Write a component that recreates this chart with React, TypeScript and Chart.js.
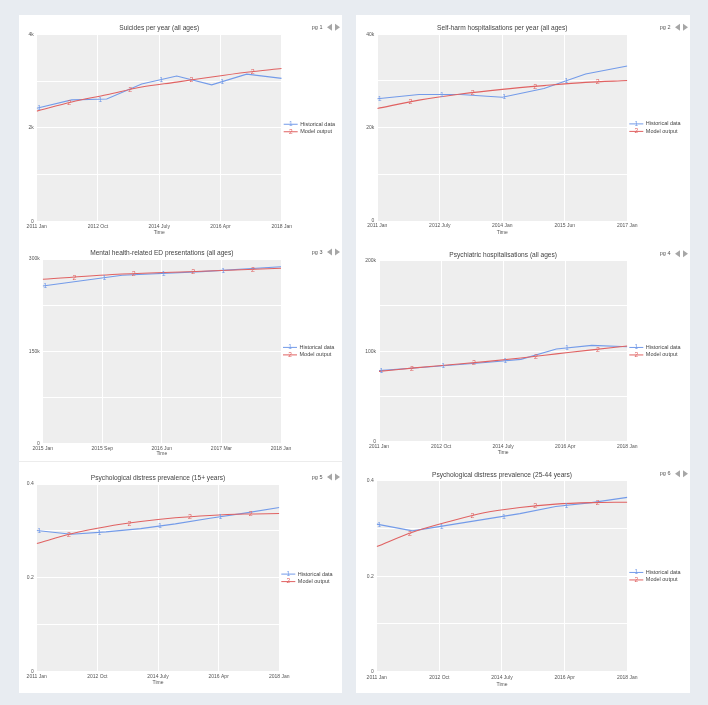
import React, { useEffect, useRef } from 'react';
import { Chart, registerables } from 'chart.js';

Chart.register(...registerables);

const FONT = '"Liberation Sans", Arial, Helvetica, sans-serif';

// ---------- data ----------
const years2011to2018 = [2011, 2012, 2013, 2014, 2015, 2016, 2017, 2018];
const years2011to2017 = [2011, 2012, 2013, 2014, 2015, 2016, 2017];
const years2015to2018 = [2015, 2016, 2017, 2018];

const suicidesHistorical = [2420, 2600, 2620, 2940, 3110, 2920, 3150, 3060];
const suicidesModel = [2360, 2555, 2710, 2875, 2980, 3090, 3190, 3270];

const selfHarmHistorical = [26200, 27100, 27100, 26500, 28400, 31500, 33200];
const selfHarmModel = [24100, 25900, 27200, 28200, 29000, 29700, 30100];

const edHistorical = [256000, 273500, 279500, 287500];
const edModel = [267000, 275500, 280000, 285000];

const psychHospHistorical = [78500, 81500, 84500, 87500, 91000, 102500, 106400, 105000];
const psychHospModel = [77700, 81600, 85000, 88500, 92500, 97000, 101500, 105700];

const distress15Historical = [0.301, 0.293, 0.298, 0.305, 0.315, 0.327, 0.338, 0.35];
const distress15Model = [0.273, 0.294, 0.309, 0.32, 0.328, 0.333, 0.336, 0.337];

const distress25Historical = [0.309, 0.295, 0.307, 0.319, 0.331, 0.346, 0.354, 0.365];
const distress25Model = [0.262, 0.292, 0.314, 0.333, 0.344, 0.351, 0.354, 0.355];

const xTicks2011to2018 = ['2011 Jan', '2012 Oct', '2014 July', '2016 Apr', '2018 Jan'];
const xTicks2011to2017 = ['2011 Jan', '2012 July', '2014 Jan', '2015 Jun', '2017 Jan'];
const xTicks2015to2018 = ['2015 Jan', '2015 Sep', '2016 Jun', '2017 Mar', '2018 Jan'];

const yTicksSuicides = ['0', '', '2k', '', '4k'];
const yTicksSelfHarm = ['0', '', '20k', '', '40k'];
const yTicksED = ['0', '', '150k', '', '300k'];
const yTicksPsychHosp = ['0', '', '100k', '', '200k'];
const yTicksDistress = ['0', '', '0.2', '', '0.4'];

const seriesLabels = ['Historical data', 'Model output'];
const seriesMarks = ['1', '2'];

// ---------- style ----------
const BLUE = '#739be9';
const RED = '#e06262';
const SERIES_COLORS = [BLUE, RED];
const PAGE_BG = '#e8ecf1';
const PLOT_BG = '#eeeeee';
// marker positions as a fraction of the plot width
const MARKER_FRACS = [
  [0.01, 0.259, 0.508, 0.757],
  [0.133, 0.382, 0.632, 0.882],
];

type PanelCfg = {
  title: string;
  page: number;
  xs: number[];
  hist: number[];
  model: number[];
  xMin: number;
  xMax: number;
  xStep: number;
  xLabels: string[];
  yMax: number;
  yStep: number;
  yLabels: string[];
  box: { x: number; y: number; w: number; h: number };
  plot: { l: number; t: number; r: number; b: number };
  tickPad: number;
};

const LEFT_X = 19;
const LEFT_W = 323;
const RIGHT_X = 356;
const RIGHT_W = 334;

const panels: PanelCfg[] = [
  {
    title: 'Suicides per year (all ages)', page: 1,
    xs: years2011to2018, hist: suicidesHistorical, model: suicidesModel,
    xMin: 2011, xMax: 2018, xStep: 1.75, xLabels: xTicks2011to2018,
    yMax: 4000, yStep: 1000, yLabels: yTicksSuicides,
    box: { x: LEFT_X, y: 15, w: LEFT_W, h: 221 },
    plot: { l: 36.7, t: 34.3, r: 281.7, b: 221.7 }, tickPad: 2,
  },
  {
    title: 'Self-harm hospitalisations per year (all ages)', page: 2,
    xs: years2011to2017, hist: selfHarmHistorical, model: selfHarmModel,
    xMin: 2011, xMax: 2017, xStep: 1.5, xLabels: xTicks2011to2017,
    yMax: 40000, yStep: 10000, yLabels: yTicksSelfHarm,
    box: { x: RIGHT_X, y: 15, w: RIGHT_W, h: 221 },
    plot: { l: 377.3, t: 34.3, r: 627.3, b: 221 }, tickPad: 2,
  },
  {
    title: 'Mental health-related ED presentations (all ages)', page: 3,
    xs: years2015to2018, hist: edHistorical, model: edModel,
    xMin: 2015, xMax: 2018, xStep: 0.75, xLabels: xTicks2015to2018,
    yMax: 300000, yStep: 75000, yLabels: yTicksED,
    box: { x: LEFT_X, y: 244, w: LEFT_W, h: 213 },
    plot: { l: 42.7, t: 259, r: 281, b: 443.3 }, tickPad: 2,
  },
  {
    title: 'Psychiatric hospitalisations (all ages)', page: 4,
    xs: years2011to2018, hist: psychHospHistorical, model: psychHospModel,
    xMin: 2011, xMax: 2018, xStep: 1.75, xLabels: xTicks2011to2018,
    yMax: 200000, yStep: 50000, yLabels: yTicksPsychHosp,
    box: { x: RIGHT_X, y: 246, w: RIGHT_W, h: 210 },
    plot: { l: 379, t: 260.7, r: 627.3, b: 441.7 }, tickPad: 2,
  },
  {
    title: 'Psychological distress prevalence (15+ years)', page: 5,
    xs: years2011to2018, hist: distress15Historical, model: distress15Model,
    xMin: 2011, xMax: 2018, xStep: 1.75, xLabels: xTicks2011to2018,
    yMax: 0.4, yStep: 0.1, yLabels: yTicksDistress,
    box: { x: LEFT_X, y: 468, w: LEFT_W, h: 218 },
    plot: { l: 36.7, t: 484, r: 279.3, b: 671.7 }, tickPad: 1.5,
  },
  {
    title: 'Psychological distress prevalence (25-44 years)', page: 6,
    xs: years2011to2018, hist: distress25Historical, model: distress25Model,
    xMin: 2011, xMax: 2018, xStep: 1.75, xLabels: xTicks2011to2018,
    yMax: 0.4, yStep: 0.1, yLabels: yTicksDistress,
    box: { x: RIGHT_X, y: 466, w: RIGHT_W, h: 222 },
    plot: { l: 376.7, t: 480.7, r: 627.3, b: 671.7 }, tickPad: 3,
  },
];

// ---------- plugins ----------
const decorPlugin = {
  id: 'decor',
  beforeDraw(chart: any) {
    const { ctx, chartArea } = chart;
    ctx.save();
    ctx.fillStyle = PLOT_BG;
    ctx.fillRect(chartArea.left, chartArea.top, chartArea.right - chartArea.left, chartArea.bottom - chartArea.top);
    ctx.restore();
  },
  afterDraw(chart: any) {
    const { ctx, chartArea, width } = chart;
    const opts = chart.options.plugins.decor || {};
    ctx.save();
    // title
    ctx.font = `6.6px ${FONT}`;
    ctx.fillStyle = '#444';
    ctx.textAlign = 'center';
    ctx.textBaseline = 'middle';
    ctx.fillText(opts.title, (chartArea.left + chartArea.right) / 2, chartArea.top - 6);
    // page label
    const py = chartArea.top - 7;
    ctx.font = `5.5px ${FONT}`;
    ctx.fillStyle = '#555';
    ctx.textAlign = 'right';
    ctx.fillText(`pg ${opts.page}`, width - 19.5, py);
    ctx.fillStyle = '#a6a6a6';
    ctx.beginPath();
    ctx.moveTo(width - 15, py);
    ctx.lineTo(width - 10, py - 3.5);
    ctx.lineTo(width - 10, py + 3.5);
    ctx.closePath();
    ctx.fill();
    ctx.beginPath();
    ctx.moveTo(width - 2, py);
    ctx.lineTo(width - 7, py - 3.5);
    ctx.lineTo(width - 7, py + 3.5);
    ctx.closePath();
    ctx.fill();
    // legend
    const cy = (chartArea.top + chartArea.bottom) / 2;
    const x0 = chartArea.right + 2;
    seriesLabels.forEach((lab, i) => {
      const y = cy + (i - 0.5) * 7.5;
      ctx.strokeStyle = SERIES_COLORS[i];
      ctx.lineWidth = 1;
      ctx.beginPath();
      ctx.moveTo(x0, y);
      ctx.lineTo(x0 + 14, y);
      ctx.stroke();
      ctx.font = `6.5px ${FONT}`;
      ctx.fillStyle = SERIES_COLORS[i];
      ctx.textAlign = 'center';
      ctx.fillText(seriesMarks[i], x0 + 7, y);
      ctx.font = `5.5px ${FONT}`;
      ctx.fillStyle = '#444';
      ctx.textAlign = 'left';
      ctx.fillText(lab, x0 + 16.5, y);
    });
    ctx.restore();
  },
};

const markerPlugin = {
  id: 'numMarkers',
  afterDatasetsDraw(chart: any) {
    const { ctx, chartArea } = chart;
    const w = chartArea.right - chartArea.left;
    ctx.save();
    ctx.font = `7px ${FONT}`;
    ctx.textAlign = 'center';
    ctx.textBaseline = 'middle';
    chart.data.datasets.forEach((ds: any, i: number) => {
      const pts = chart.getDatasetMeta(i).data;
      ctx.fillStyle = ds.borderColor;
      MARKER_FRACS[i].forEach((f) => {
        const px = chartArea.left + f * w;
        for (let k = 0; k < pts.length - 1; k++) {
          const a = pts[k];
          const b = pts[k + 1];
          if (px >= a.x && px <= b.x) {
            const t = (px - a.x) / (b.x - a.x);
            ctx.fillText(seriesMarks[i], px, a.y + t * (b.y - a.y) + 0.5);
            break;
          }
        }
      });
    });
    ctx.restore();
  },
};

function Panel({ cfg }: { cfg: PanelCfg }) {
  const ref = useRef<HTMLCanvasElement>(null);
  useEffect(() => {
    const { box, plot } = cfg;
    const yWidth = plot.l - box.x;
    const xHeight = box.y + box.h - plot.b;
    const chart = new Chart(ref.current as HTMLCanvasElement, {
      type: 'line',
      data: {
        datasets: [
          {
            label: seriesLabels[0],
            data: cfg.xs.map((x, i) => ({ x, y: cfg.hist[i] })),
            borderColor: BLUE,
            borderWidth: 1.1,
            pointRadius: 0,
            tension: 0,
            order: 1,
          },
          {
            label: seriesLabels[1],
            data: cfg.xs.map((x, i) => ({ x, y: cfg.model[i] })),
            borderColor: RED,
            borderWidth: 1.1,
            pointRadius: 0,
            cubicInterpolationMode: 'monotone',
            order: 0,
          },
        ],
      },
      options: {
        responsive: false,
        animation: false,
        devicePixelRatio: 1,
        layout: {
          padding: { left: 0, bottom: 0, top: plot.t - box.y, right: box.x + box.w - plot.r },
        },
        plugins: {
          legend: { display: false },
          tooltip: { enabled: false },
          title: { display: false },
          decor: { title: cfg.title, page: cfg.page },
        } as any,
        scales: {
          x: {
            type: 'linear',
            min: cfg.xMin,
            max: cfg.xMax,
            grid: { color: '#ffffff', lineWidth: 1, drawTicks: false },
            border: { display: false },
            ticks: {
              stepSize: cfg.xStep,
              autoSkip: false,
              maxRotation: 0,
              minRotation: 0,
              padding: cfg.tickPad,
              color: '#555',
              font: { family: FONT, size: 5 },
              callback: (_v: any, i: number) => cfg.xLabels[i],
            },
            title: {
              display: true,
              text: 'Time',
              color: '#555',
              padding: 0,
              font: { family: FONT, size: 5 },
            },
            afterFit: (s: any) => {
              s.height = xHeight;
            },
          },
          y: {
            type: 'linear',
            min: 0,
            max: cfg.yMax,
            grid: { color: '#ffffff', lineWidth: 1, drawTicks: false },
            border: { display: false },
            ticks: {
              stepSize: cfg.yStep,
              autoSkip: false,
              padding: 3,
              color: '#555',
              font: { family: FONT, size: 5 },
              callback: (_v: any, i: number) => cfg.yLabels[i],
            },
            afterFit: (s: any) => {
              s.width = yWidth;
            },
          },
        },
      },
      plugins: [decorPlugin, markerPlugin],
    } as any);
    return () => chart.destroy();
  }, [cfg]);
  return (
    <canvas
      ref={ref}
      width={cfg.box.w}
      height={cfg.box.h}
      style={{ position: 'absolute', left: cfg.box.x, top: cfg.box.y, width: cfg.box.w, height: cfg.box.h }}
    />
  );
}

export default function App() {
  return (
    <div style={{ position: 'absolute', left: 0, top: 0, width: 708, height: 705, background: PAGE_BG, overflow: 'hidden' }}>
      <div style={{ position: 'absolute', left: LEFT_X, top: 15, width: LEFT_W, height: 678, background: '#ffffff' }} />
      <div style={{ position: 'absolute', left: RIGHT_X, top: 15, width: RIGHT_W, height: 678, background: '#ffffff' }} />
      <div style={{ position: 'absolute', left: LEFT_X, top: 461, width: LEFT_W, height: 1, background: '#ececec' }} />
      {panels.map((p) => (
        <Panel key={p.page} cfg={p} />
      ))}
    </div>
  );
}
